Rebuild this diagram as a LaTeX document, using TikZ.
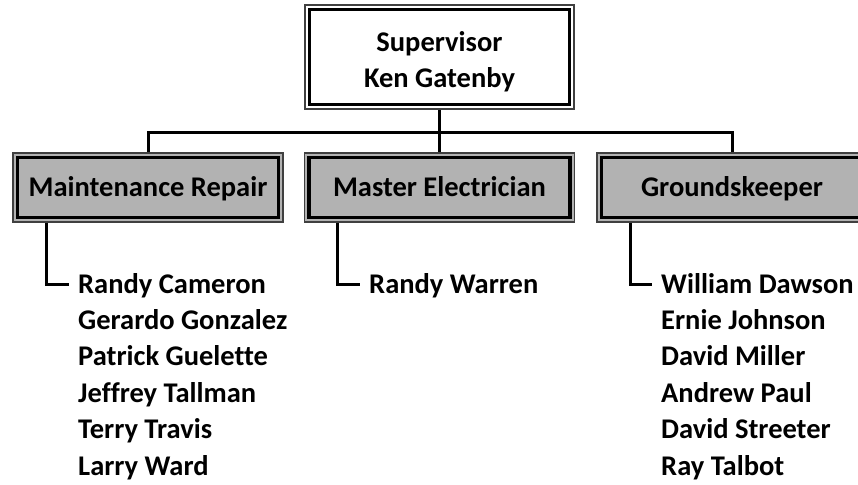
\documentclass[tikz,border=0pt]{standalone}
\usepackage{fontspec}
\setmainfont{Carlito}[Ligatures=NoCommon]
\definecolor{boxgray}{RGB}{178,178,178}
\begin{document}
\begin{tikzpicture}[x=1pt,y=-1pt,
  txt/.style={font=\bfseries\fontsize{28.5}{36}\selectfont},
  boss/.style={txt, draw=black!75, line width=1.3pt, fill=white, minimum width=269pt, minimum height=104pt, align=center, inner sep=0pt, text height=62pt, text depth=0pt},
  dept/.style={txt, draw=black!75, line width=1.3pt, fill=boxgray, minimum width=270pt, minimum height=69pt, inner sep=0pt, text height=18pt, text depth=0pt},
  innerframe/.style={line width=3.6pt, draw=black},
  conn/.style={line width=3pt, line join=miter},
  person/.style={txt, anchor=west, inner sep=0pt, text height=18pt, text depth=0pt},
]
\useasboundingbox (0,0) rectangle (858,484);
\clip (0,0) rectangle (858,484);

\node[boss] (sup) at (439.5,57) {Supervisor\\Ken Gatenby};
\node[dept] (maint) at (148,187.5) {Maintenance Repair};
\node[dept] (mast) at (439.5,187.5) {Master Electrician};
\node[dept] (grd) at (732,187.5) {Groundskeeper};

\foreach \n in {sup,maint,mast,grd}
  \draw[innerframe] ([xshift=5pt,yshift=-5pt]\n.north west) rectangle ([xshift=-5pt,yshift=5pt]\n.south east);

\coordinate (hub) at (439.5,132);
\draw[conn] (sup.south) -- (hub);
\draw[conn] (maint.north) |- (hub) -| (grd.north);
\draw[conn] (hub) -- (mast.north);

% Maintenance staff
\node[person] (m1) at (78,284) {Randy Cameron};
\node[person] (m2) at (78,320.4) {Gerardo Gonzalez};
\node[person] (m3) at (78,356.8) {Patrick Guelette};
\node[person] (m4) at (78,393.2) {Jeffrey Tallman};
\node[person] (m5) at (78,429.6) {Terry Travis};
\node[person] (m6) at (78,466) {Larry Ward};

% Master electrician staff
\node[person] (e1) at (369,284) {Randy Warren};

% Groundskeeper staff
\node[person] (g1) at (661,284) {William Dawson};
\node[person] (g2) at (661,320.4) {Ernie Johnson};
\node[person] (g3) at (661,356.8) {David Miller};
\node[person] (g4) at (661,393.2) {Andrew Paul};
\node[person] (g5) at (661,429.6) {David Streeter};
\node[person] (g6) at (661,466) {Ray Talbot};

\draw[conn] ([xshift=34pt]maint.south west) |- ([xshift=-9pt]m1.west);
\draw[conn] ([xshift=34pt]mast.south west) |- ([xshift=-9pt]e1.west);
\draw[conn] ([xshift=34pt]grd.south west) |- ([xshift=-9pt]g1.west);
\end{tikzpicture}
\end{document}
